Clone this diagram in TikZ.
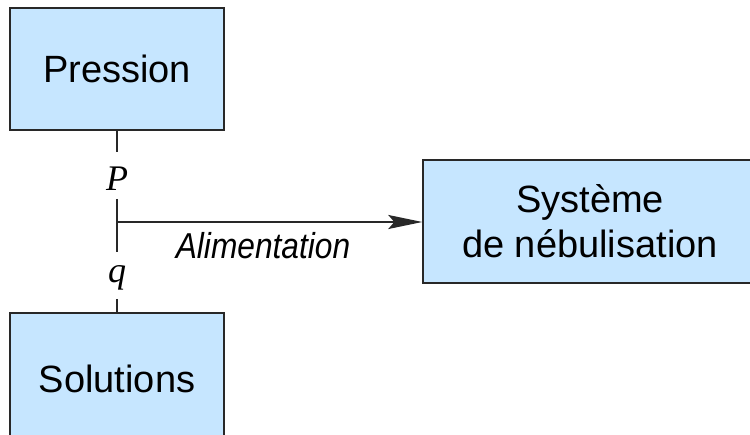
\documentclass[tikz,border=0pt]{standalone}
\usepackage{fontspec}
\newfontfamily\helv{Liberation Sans}
\newfontfamily\helvn[FakeStretch=0.88]{Liberation Sans}
\newfontfamily\tms{Liberation Serif}
\usetikzlibrary{arrows.meta}
\definecolor{boxfill}{RGB}{198,230,255}
\definecolor{boxline}{RGB}{40,40,40}
\tikzset{
  block/.style={draw=boxline, line width=1.4pt, fill=boxfill, inner sep=0pt,
    align=center, font=\helv\fontsize{38}{45}\selectfont},
  wire/.style={draw=boxline, line width=1.8pt},
  sig/.style={inner sep=0pt, font=\tms\itshape\fontsize{36}{40}\selectfont}
}
\begin{document}
\begin{tikzpicture}[x=1pt,y=-1pt]
  \useasboundingbox (0,0) rectangle (750,435);
  \clip (0,0) rectangle (750,435);
  % blocks (the lower and right ones run past the frame)
  \node[block, minimum width=214pt, minimum height=122pt] (pr) at (117,69) {Pression};
  \node[block, minimum width=214pt, minimum height=140pt] (so) at (117,383) {\raisebox{9pt}{Solutions}};
  \node[block, minimum width=380pt, minimum height=123pt] (sys) at (613,221.5)
    {\hspace*{-46pt}Système\\\hspace*{-46pt}de nébulisation};
  % signal names on the supply line
  \node[sig, anchor=base] (lP) at (117,191) {P};
  \node[sig, anchor=base] (lq) at (117,283) {q};
  % breaks of the vertical line
  \coordinate (a1) at (117,152);
  \coordinate (a2) at (117,199);
  \coordinate (a3) at (117,252);
  \coordinate (a4) at (117,299);
  \coordinate (j) at (117,222);
  \draw[wire] (pr.south) -- (a1);
  \draw[wire] (a2) -- (a3);
  \draw[wire] (a4) -- (so.north);
  \draw[wire, -{Stealth[length=34pt, width=14pt, inset=6pt]}] (j) -- (j -| sys.west);
  \node[inner sep=0pt, anchor=base, font=\helvn\itshape\fontsize{36}{40}\selectfont]
    (alim) at (263,259) {Alimentation};
\end{tikzpicture}
\end{document}
